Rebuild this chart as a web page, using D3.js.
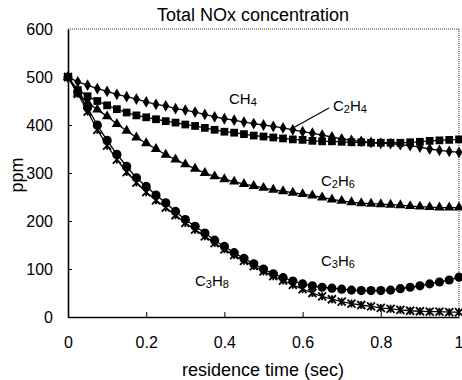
<!DOCTYPE html>
<html><head><meta charset="utf-8">
<script src="https://cdn.jsdelivr.net/npm/d3@7"></script>
<style>body{margin:0;background:#fff}svg{display:block}text{font-family:"Liberation Sans",Arial,sans-serif;fill:#000}</style>
</head><body><svg id="c" width="462" height="380"></svg>
<script>
const times = d3.range(41).map(i => i / 40);
const ch4 = [500,490,483,476,470,464,459,454,448,443,440,434,431,427,422,417,413,410,406,403,400,397,394,390,386,383,379,375,371,368,366,364,362,361,359,357,354,350,347,345,343];
const c2h4 = [500,473,460,450,441,433,426,420,416,412,408,405,401,398,394,390,386,384,381,378,376,374,372,370,369,367,366,366,365,364,364,363,363,363,363,364,365,367,368,369,370];
const c2h6 = [500,465,447,432,418,402,388,374,362,350,338,328,318,309,300,293,287,282,277,273,269,265,262,259,256,253,249,245,242,239,237,236,235,234,233,231,230,229,228,228,228];
const c3h6 = [500,468,436,400,368,339,314,290,272,254,238,220,203,189,175,160,147,134,122,111,100,90,82,75,69,65,62,60,58,56,55,55,55,56,59,62,65,69,73,77,83];
const c3h8 = [500,465,428,390,357,328,302,280,260,243,228,212,196,182,168,154,141,129,117,106,95,85,76,67,58,50,43,37,32,28,25,22,19,17,15,13,12,11,11,10,10];
const xTicks = [0,0.2,0.4,0.6,0.8,1];
const xTickLabels = ["0","0.2","0.4","0.6","0.8","1"];
const yTicks = [0,100,200,300,400,500,600];
const title = "Total NOx concentration";
const xTitle = "residence time (sec)";
const yTitle = "ppm";

const svg = d3.select("#c");
const x = d3.scaleLinear().domain([0,1]).range([68,459]);
const y = d3.scaleLinear().domain([0,600]).range([317,29]);

// frame: dotted top/right
svg.append("line").attr("x1",68).attr("x2",459).attr("y1",29).attr("y2",29)
  .attr("stroke","#000").attr("stroke-width",0.8).attr("stroke-dasharray","1,1");
svg.append("line").attr("x1",459).attr("x2",459).attr("y1",29).attr("y2",317)
  .attr("stroke","#000").attr("stroke-width",0.8).attr("stroke-dasharray","1,1");

const xAxis = svg.append("g").attr("transform","translate(0,317)")
  .call(d3.axisBottom(x).tickValues(xTicks).tickFormat((d,i)=>xTickLabels[i]).tickSizeInner(-5).tickSizeOuter(0).tickPadding(20));
const yAxis = svg.append("g").attr("transform","translate(68,0)")
  .call(d3.axisLeft(y).tickValues(yTicks).tickSizeInner(-4).tickSizeOuter(0).tickPadding(15));
[xAxis,yAxis].forEach(g=>{
  g.select(".domain").attr("stroke","#000").attr("stroke-width",1.6);
  g.selectAll(".tick line").attr("stroke","#000").attr("stroke-width",1);
  g.selectAll("text").style("font-size","16px").attr("fill","#000");
});
yAxis.selectAll(".tick").filter(d=>d===600).select("line").remove();
xAxis.selectAll(".tick").filter(d=>d===0||d===1).select("line").remove();
xAxis.selectAll(".tick").filter(d=>d===1).select("text").attr("text-anchor","end").attr("x",4);

const series = [
  {vals:ch4, sym:d3.symbolDiamond, size:40},
  {vals:c2h4, sym:d3.symbolSquare, size:60},
  {vals:c2h6, sym:d3.symbolTriangle, size:46},
  {vals:c3h6, sym:d3.symbolCircle, size:66},
  {vals:c3h8, sym:"star", size:0}
];
const line = d3.line().x((d,i)=>x(times[i])).y(d=>y(d));
series.forEach(s=>{
  svg.append("path").attr("d",line(s.vals)).attr("fill","none").attr("stroke","#000").attr("stroke-width",1.3);
});
series.forEach(s=>{
  const g = svg.append("g");
  s.vals.forEach((v,i)=>{
    const px = x(times[i]), py = y(v);
    if (s.sym === "star") {
      const r = 4;
      g.append("path").attr("d",`M${px-r},${py-r}L${px+r},${py+r}M${px-r},${py+r}L${px+r},${py-r}M${px},${py-r}L${px},${py+r}`)
        .attr("stroke","#000").attr("stroke-width",1.8).attr("fill","none");
    } else {
      g.append("path").attr("d",d3.symbol().type(s.sym).size(s.size)())
        .attr("transform",`translate(${px},${py})`).attr("fill","#000");
    }
  });
});

// title & axis titles
svg.append("text").attr("x",253).attr("y",21).attr("text-anchor","middle").style("font-size","18px").text(title);
svg.append("text").attr("x",263).attr("y",376).attr("text-anchor","middle").style("font-size","18px").text(xTitle);
svg.append("text").attr("transform","translate(23,175) rotate(-90)").attr("text-anchor","middle").style("font-size","18px").text(yTitle);

function label(xp, yp, str){
  const t = svg.append("text").attr("x",xp).attr("y",yp).style("font-size","15px");
  const toks = str.match(/[A-Za-z]+|\d/g);
  let sub = false;
  toks.forEach(tok=>{
    if (/\d/.test(tok)) { t.append("tspan").attr("dy", sub?0:2).style("font-size","11px").text(tok); sub=true; }
    else { t.append("tspan").attr("dy", sub?-2:0).text(tok); sub=false; }
  });
}
label(229,104,"CH4");
label(333,111,"C2H4");
label(321,186,"C2H6");
label(321,266,"C3H6");
label(195,286,"C3H8");
svg.append("line").attr("x1",329).attr("y1",108).attr("x2",293).attr("y2",128).attr("stroke","#000").attr("stroke-width",1.2);
</script></body></html>
